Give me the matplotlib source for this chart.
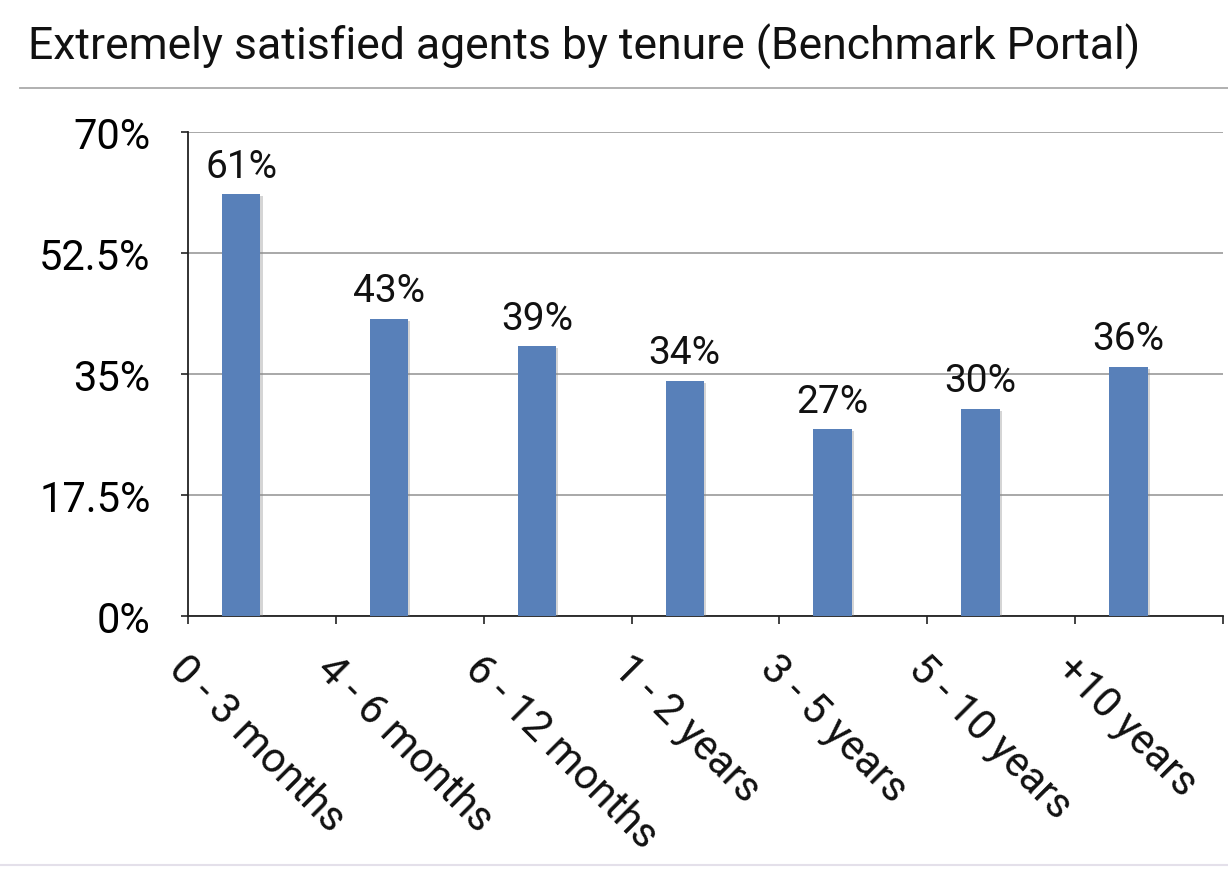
import matplotlib
matplotlib.use("Agg")
import matplotlib.pyplot as plt
import matplotlib.patheffects as pe
import matplotlib.transforms as mtransforms
from matplotlib.lines import Line2D

categories = ["0 - 3 months", "4 - 6 months", "6 - 12 months", "1 - 2 years",
              "3 - 5 years", "5 - 10 years", "+10 years"]
values = [61, 43, 39, 34, 27, 30, 36]
yticks = [0, 17.5, 35, 52.5, 70]
ytick_labels = ["0%", "17.5%", "35%", "52.5%", "70%"]
title = "Extremely satisfied agents by tenure (Benchmark Portal)"

plt.rcParams['font.family'] = ['Roboto', 'DejaVu Sans']

fig = plt.figure(figsize=(12.28, 8.7), dpi=100)
ax = fig.add_axes([188/1228, 1-617/870, (1223-188)/1228, (617-133)/870])

x = list(range(len(categories)))
bar_shift = -0.14
xb = [xi + bar_shift for xi in x]
bars = ax.bar(xb, values, width=0.26, color="#5880b9", zorder=3,
              path_effects=[pe.SimplePatchShadow(offset=(1.5, -1.5), shadow_rgbFace="#888888", alpha=0.35), pe.Normal()])

for xi, v in zip(xb, values):
    ax.annotate(f"{v}%", (xi, v), xytext=(0, 7), textcoords="offset points",
                ha="center", va="bottom", fontsize=28, color="#111111")

ax.set_xlim(-0.5, len(categories) - 0.5)
ax.set_ylim(0, 70)
ax.set_yticks(yticks)
ax.set_yticklabels(ytick_labels, fontsize=30)
ax.yaxis.grid(True, color="#999999", linewidth=1.2, zorder=0)
ax.set_axisbelow(True)

for s in ["top", "right"]:
    ax.spines[s].set_visible(False)
ax.spines["left"].set_color("#222222")
ax.spines["bottom"].set_color("#222222")
ax.spines["left"].set_linewidth(1.3)
ax.spines["bottom"].set_linewidth(1.3)

ax.set_xticks([i - 0.5 for i in range(len(categories) + 1)])
ax.set_xticklabels([])
ax.tick_params(axis="x", length=6, width=1.2, direction="out", color="#222222")
ax.tick_params(axis="y", length=5, width=1.2, direction="out", color="#222222", pad=22)

offset = mtransforms.ScaledTranslation(-72/100, -31/100, fig.dpi_scale_trans)
trans = ax.get_xaxis_transform() + offset
for xi, lab in zip(x, categories):
    ax.text(xi, 0, lab, transform=trans, rotation=-45, rotation_mode="anchor",
            ha="left", va="top", fontsize=30, color="#111111")

fig.text(28/1228, 1-47/870, title, fontsize=32, color="#111111", ha="left", va="center")
fig.add_artist(Line2D([20/1228, 1], [1-89/870, 1-89/870], transform=fig.transFigure,
                      color="#aaaaaa", linewidth=1.3))
fig.add_artist(Line2D([0, 1], [1-866/870, 1-866/870], transform=fig.transFigure,
                      color="#e4e0ea", linewidth=1.5))

fig.savefig("out.png", dpi=100)
